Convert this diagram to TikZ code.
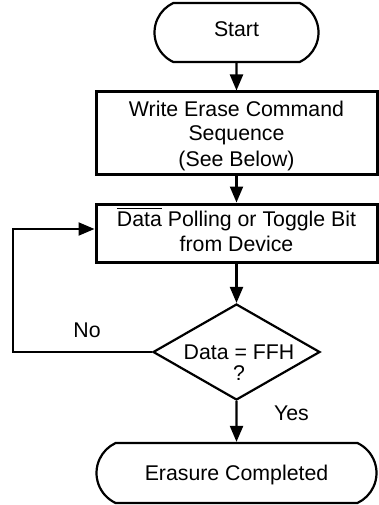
\documentclass[tikz,border=0pt]{standalone}
\usepackage{fontspec}
\setmainfont{Liberation Sans}
\usetikzlibrary{arrows.meta,shapes.geometric,shapes.misc}
\newlength\ovlw
\newcommand\ovl[1]{\settowidth{\ovlw}{#1}\rlap{\rule[17pt]{\ovlw}{0.9pt}}#1}
\newcommand\ml[1]{\begin{tabular}[b]{@{}c@{}}#1\end{tabular}}
\begin{document}
\begin{tikzpicture}[x=1pt,y=-1pt,
  every node/.style={font=\fontsize{21.3}{25}\selectfont, inner sep=0pt},
  proc/.style={draw, line width=3pt, rectangle, minimum width=281pt, text depth=0pt},
  term/.style={draw, line width=2.2pt, rounded rectangle, rounded rectangle arc length=130, text depth=0pt},
  decision/.style={draw, line width=2.2pt, diamond, minimum width=167pt, minimum height=96pt},
  arr/.style={line width=2.2pt, -{Triangle[length=16pt,width=13pt]}},
  lbl/.style={anchor=base}]
\useasboundingbox (0,0) rectangle (378,505);
\node[term, minimum width=164pt, minimum height=59pt, text height=8.4pt] (start) at (236.5,32.5) {Start};
\node[proc, minimum height=82pt, text height=66pt] (b1) at (236.5,133) {\ml{Write Erase Command\\Sequence\\(See Below)}};
\node[proc, minimum height=58pt, text height=36.6pt] (b2) at (236.5,233) {\ml{\ovl{Data} Polling or Toggle Bit\\from Device}};
\node[decision] (dec) at (236.5,352) {};
\node[anchor=base, font=\fontsize{21.3}{21.4}\selectfont] (dect) at (239,380.7) {\ml{Data = FFH\\?}};
\node[term, minimum width=280pt, minimum height=60pt, text height=14pt] (end) at (236.5,473) {Erasure Completed};
\coordinate (lp) at (13,229);
\draw[arr] (start) -- (b1);
\draw[arr] (b1) -- (b2);
\draw[arr] (b2) -- (dec);
\draw[arr] (dec) -- (end);
\draw[arr] (dec.west) -- (dec.west -| lp) -- (lp) -- (lp -| b2.west);
\node[lbl] (no) at (87,337) {No};
\node[lbl] (yes) at (291.5,420.7) {Yes};
\end{tikzpicture}
\end{document}
